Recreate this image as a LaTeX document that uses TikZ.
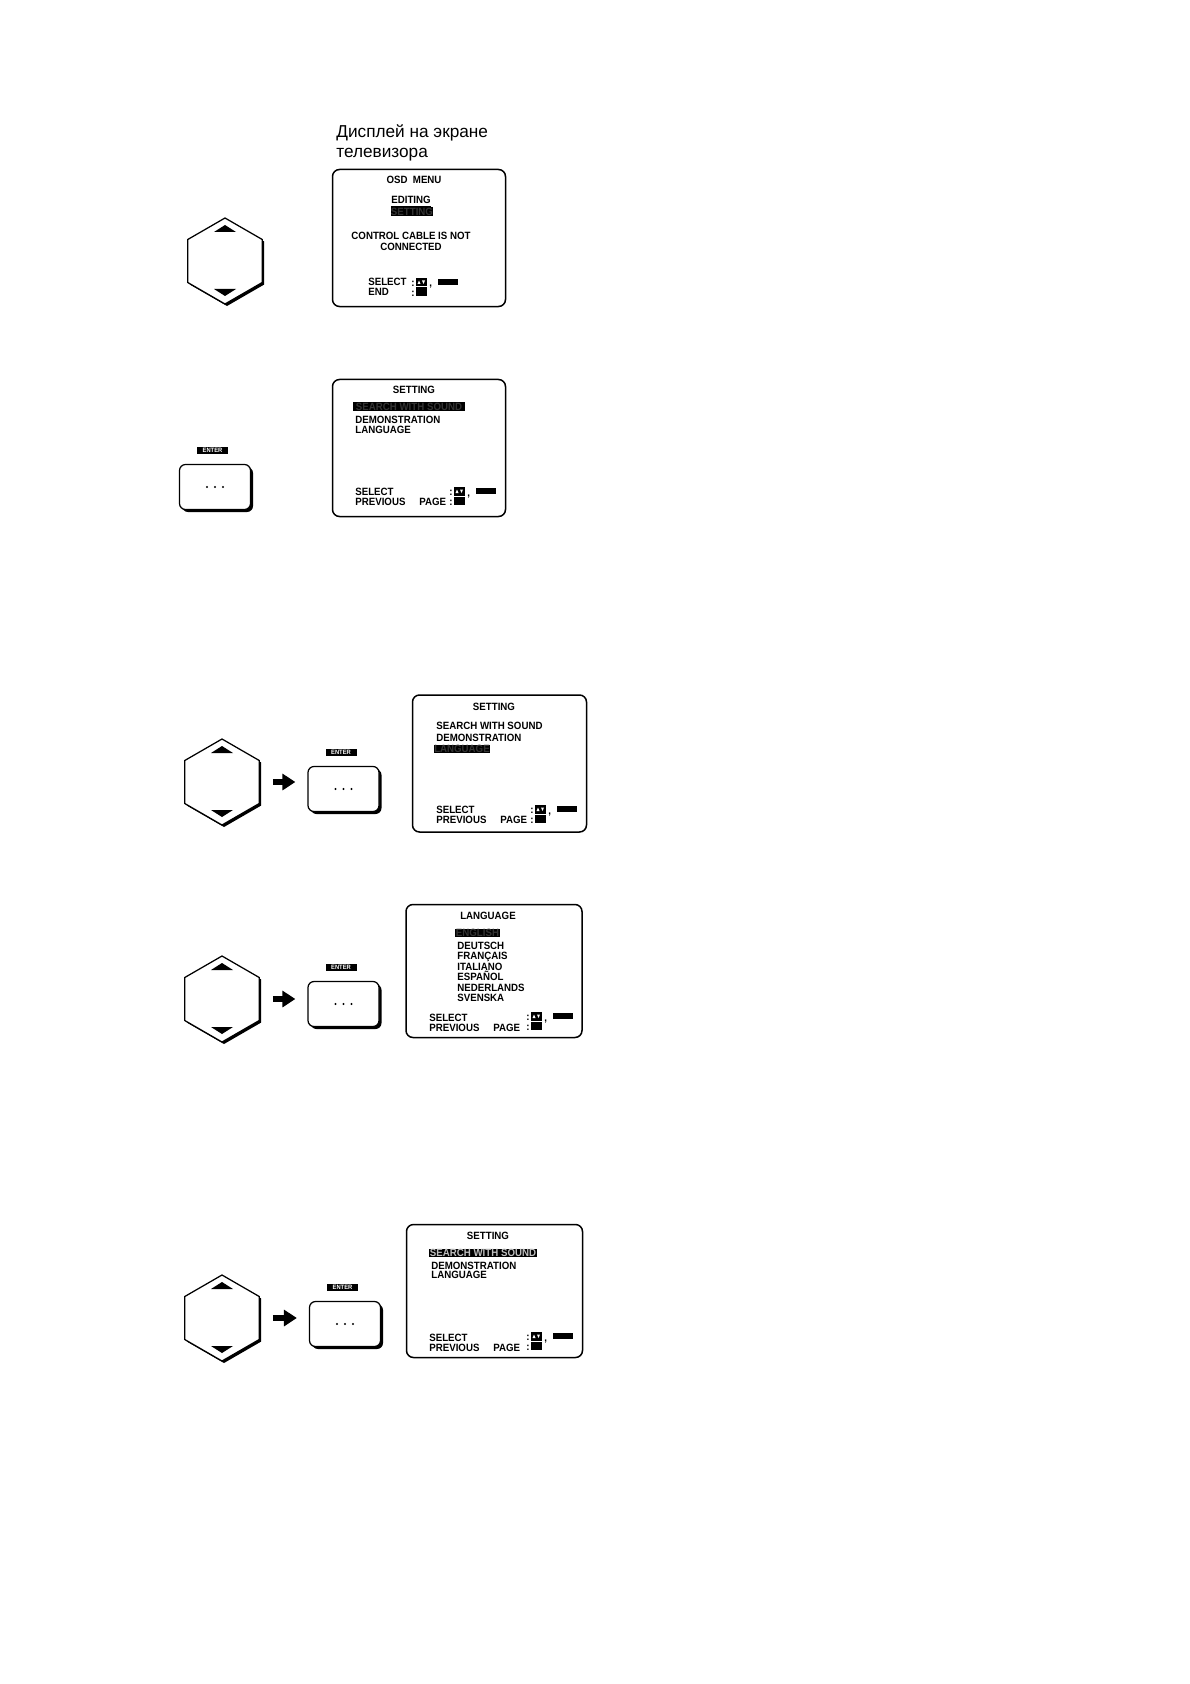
\documentclass[tikz,border=0pt]{standalone}
\usepackage{fontspec}
\setmainfont{Liberation Sans}
\newfontfamily\osdfont[FakeStretch=0.92]{Liberation Sans}
\usetikzlibrary{arrows.meta}
\usetikzlibrary{shapes.geometric}
\usetikzlibrary{shadows}
\usetikzlibrary{positioning}

\begin{document}
\begin{tikzpicture}[x=.2mm, y=-.2mm,
		crt/.style={draw, line width=.3mm, rounded corners=1.4mm, inner sep=0pt},
		updown/.style={regular polygon, regular polygon sides=6, shape border rotate=30, minimum size=17.2mm, inner sep=0pt, draw, line width=.25mm, fill=white, drop shadow={shadow xshift=.4mm, shadow yshift=-.4mm, fill=black, opacity=1}},
		btn/.style={draw, fill=white, rounded corners=1.2mm, line width=.25mm, minimum width=14.2mm, minimum height=9mm, inner sep=0pt, drop shadow={shadow xshift=.5mm, shadow yshift=-.5mm, fill=black, opacity=1}},
		enterlbl/.style={fill=black, text=white, font=\osdfont\bfseries\fontsize{3.6}{4}\selectfont, inner sep=0pt, minimum width=6.2mm, minimum height=1.4mm},
		osd/.style={font=\osdfont\bfseries\fontsize{6}{7}\selectfont, inner sep=0pt, anchor=base west},
		osdc/.style={osd, anchor=base},
		hibar/.style={osd, anchor=center, fill=black, text=black!80, minimum height=1.7mm},
		fatarrow/.style={line width=1.2mm, -{Triangle[length=2.6mm, width=3.2mm]}, shorten <=2.6mm, shorten >=2.4mm}
	]
	\useasboundingbox (0,0) rectangle (1190,1684);

	\node[anchor=base west, inner sep=0pt, font=\fontsize{9.8}{11.3}\selectfont] (ttl1) at (336,138) {Дисплей на экране};
	\node[anchor=base west, inner sep=0pt, font=\fontsize{9.8}{11.3}\selectfont] (ttl2) at (336,158) {телевизора};

	\node[updown] (hex1) at (225,261) {};
	\node[updown] (hex3) at (222,782) {};
	\node[updown] (hex4) at (222,999) {};
	\node[updown] (hex5) at (222,1318) {};
	\foreach \h in {hex1,hex3,hex4,hex5} {
		\fill ([shift={(0,-36)}]\h.center) -- ([shift={(-11,-29)}]\h.center) -- ([shift={(11,-29)}]\h.center) -- cycle;
		\fill ([shift={(0,35)}]\h.center) -- ([shift={(-11,28)}]\h.center) -- ([shift={(11,28)}]\h.center) -- cycle;
	}

	\node[btn] (btn2) at (215,487) {};
	\node[btn] (btn3) at (343.5,789) {};
	\node[btn] (btn4) at (343.5,1004) {};
	\node[btn] (btn5) at (345,1324) {};
	\foreach \b in {btn2,btn3,btn4,btn5} {
		\node[enterlbl, above=2mm of \b, xshift=-.5mm] (ent\b) {ENTER};
		\foreach \d in {-8,0,8}
			\fill ([xshift=\d*.2mm]\b.center) circle (1.1);
	}

	\draw[fatarrow] (hex3.east) -- (hex3.east -| btn3.west);
	\draw[fatarrow] (hex4.east) -- (hex4.east -| btn4.west);
	\draw[fatarrow] (hex5.east) -- (hex5.east -| btn5.west);

	\node[crt, minimum width=34.6mm, minimum height=27.4mm] (scr1) at (419,238) {};
	\node[osdc] (osd1) at (414,184) {OSD~~MENU};
	\node[osdc] (edit1) at (411,204) {\underline{EDITING}};
	\node[hibar, minimum width=8.4mm] (bar1) at (412,211.5) {SETTING};
	\node[osdc] (msg1) at (411,240) {CONTROL CABLE IS NOT};
	\node[osdc] (msg1b) at (411,251) {CONNECTED};
	\node[osd] (sel1) at (368,286) {SELECT};
	\node[osd] (end1) at (368,296) {END};

	\node[crt, minimum width=34.6mm, minimum height=27.4mm] (scr2) at (419,448) {};
	\node[osdc] (head2) at (414,393) {SETTING};
	\node[hibar, minimum width=22.4mm] (bar2) at (409,406.5) {SEARCH WITH SOUND};
	\node[osd] (demo2) at (355,423) {DEMONSTRATION};
	\node[osd] (lang2) at (355,433) {LANGUAGE};
	\node[osd] (sel2) at (355,495) {SELECT};
	\node[osd] (prev2) at (355,505) {PREVIOUS};
	\node[osd] (page2) at (419,505) {PAGE};

	\node[crt, minimum width=34.8mm, minimum height=27.4mm] (scr3) at (499.5,763.5) {};
	\node[osdc] (head3) at (494,710) {SETTING};
	\node[osd] (srch3) at (436,729) {SEARCH WITH SOUND};
	\node[osd] (demo3) at (436,741) {DEMONSTRATION};
	\node[hibar, minimum width=10.8mm] (bar3) at (462,749) {LANGUAGE};
	\node[osd] (sel3) at (436,813) {SELECT};
	\node[osd] (prev3) at (436,823) {PREVIOUS};
	\node[osd] (page3) at (500,823) {PAGE};

	\node[crt, minimum width=35.2mm, minimum height=26.6mm] (scr4) at (494,971) {};
	\node[osdc] (head4) at (488,919) {LANGUAGE};
	\node[hibar, minimum width=9mm] (bar4) at (477.5,933) {ENGLISH};
	\foreach \w [count=\i] in {DEUTSCH, FRANÇAIS, ITALIANO, ESPAÑOL, NEDERLANDS, SVENSKA}
		\node[osd] (item\i) at (457,938.5+10.5*\i) {\w};
	\node[osd] (sel4) at (429,1021) {SELECT};
	\node[osd] (prev4) at (429,1031) {PREVIOUS};
	\node[osd] (page4) at (493,1031) {PAGE};

	\node[crt, minimum width=35.2mm, minimum height=26.6mm] (scr5) at (494.5,1291) {};
	\node[osdc] (head5) at (488,1239) {SETTING};
	\node[hibar, minimum width=21.6mm, text=white!75!black] (bar5) at (483,1253) {SEARCH WITH SOUND};
	\node[osd] (demo5) at (431,1269) {DEMONSTRATION};
	\node[osd] (lang5) at (431,1278) {LANGUAGE};
	\node[osd] (sel5) at (429,1341) {SELECT};
	\node[osd] (prev5) at (429,1351) {PREVIOUS};
	\node[osd] (page5) at (493,1351) {PAGE};

	\foreach \x/\y in {416/278, 454/487, 535/805, 531/1012, 531/1332} {
		\fill (\x,\y) rectangle ++(10.5,8.5);
		\fill (\x,\y+9.5) rectangle ++(10.5,8.5);
		\fill[white] (\x+1.5,\y+6) -- (\x+4.5,\y+6) -- (\x+3,\y+2.5) -- cycle;
		\fill[white] (\x+6,\y+2.5) -- (\x+9,\y+2.5) -- (\x+7.5,\y+6) -- cycle;
		\node[osd, anchor=base east] (cola\x) at (\x-1,\y+8.5) {:};
		\node[osd, anchor=base east] (colb\x) at (\x-1,\y+18.5) {:};
		\node[osd] (comma\x) at (\x+13,\y+9) {,};
		\fill (\x+22,\y+1) rectangle ++(20,6);
	}
\end{tikzpicture}
\end{document}
